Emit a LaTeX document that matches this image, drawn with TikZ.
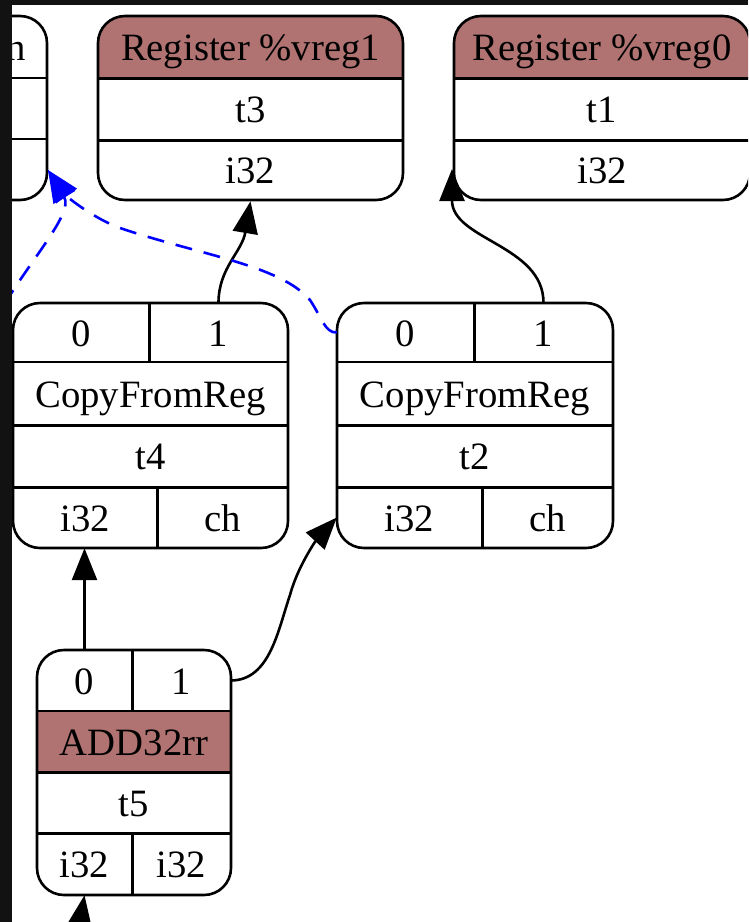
\documentclass[tikz,border=0pt]{standalone}
\usepackage{fontspec}
\setmainfont{Liberation Serif}
\usetikzlibrary{arrows.meta}
\definecolor{hdr}{RGB}{176,115,114}
\definecolor{framec}{RGB}{18,18,18}
\tikzset{
  rec/.style={draw, line width=2.6pt, rounded corners=27pt, inner sep=0pt},
  cell/.style={inner sep=0pt, text height=27pt, text depth=0pt, font=\fontsize{38.7}{46}\selectfont},
  div/.style={line width=2.6pt},
  edge/.style={line width=2.6pt, -{Triangle[length=32pt,width=25pt]}},
  dep/.style={edge, blue, dash pattern=on 17pt off 12pt},
}
\begin{document}
\begin{tikzpicture}[x=1pt,y=-1pt]
\useasboundingbox (0,0) rectangle (748,922);
\clip (0,0) rectangle (748,922);
\fill[white] (0,0) rectangle (748,922);

% ---------- left (cut) node ----------
\node[rec, minimum width=297, minimum height=184] (L) at (-101.5,108) {};
\draw[div] (-250,78) -- (47,78);
\draw[div] (-250,139) -- (47,139);
\node[cell, anchor=east] (Lh) at (26,47) {n};
\coordinate (Lin) at (48,170);

% ---------- Register %vreg1 ----------
\begin{scope}
  \clip (98,16) rectangle (403,78);
  \fill[hdr, rounded corners=27pt] (98,16) rectangle (403,200);
\end{scope}
\node[cell, minimum width=305, minimum height=62] (v1h) at (250.5,47) {Register \%vreg1};
\node[cell, minimum width=305, minimum height=62] (v1id) at (250.5,109) {t3};
\node[cell, minimum width=305, minimum height=60] (v1ty) at (250.5,170) {i32};
\draw[div] (v1h.south west) -- (v1h.south east);
\draw[div] (v1id.south west) -- (v1id.south east);
\node[rec, minimum width=305, minimum height=184] (vreg1) at (250.5,108) {};

% ---------- Register %vreg0 ----------
\begin{scope}
  \clip (454,16) rectangle (750,78);
  \fill[hdr, rounded corners=27pt] (454,16) rectangle (750,200);
\end{scope}
\node[cell, minimum width=296, minimum height=62] (v0h) at (602,47) {Register \%vreg0};
\node[cell, minimum width=296, minimum height=62] (v0id) at (602,109) {t1};
\node[cell, minimum width=296, minimum height=60] (v0ty) at (602,170) {i32};
\draw[div] (v0h.south west) -- (v0h.south east);
\draw[div] (v0id.south west) -- (v0id.south east);
\node[rec, minimum width=296, minimum height=184] (vreg0) at (602,108) {};
\coordinate (v0in) at (452,169);

% ---------- CopyFromReg t4 ----------
\node[cell, minimum width=136, minimum height=59] (t4p0) at (81,332.5) {0};
\node[cell, minimum width=139, minimum height=59] (t4p1) at (218.5,332.5) {1};
\node[cell, minimum width=275, minimum height=63] (t4op) at (150.5,393.5) {CopyFromReg};
\node[cell, minimum width=275, minimum height=62] (t4id) at (150.5,456) {t4};
\node[cell, minimum width=144, minimum height=61] (t4o0) at (85,517.5) {i32};
\node[cell, minimum width=131, minimum height=61] (t4o1) at (222.5,517.5) {ch};
\draw[div] (t4p0.north east) -- (t4p0.south east);
\draw[div] (t4op.north west) -- (t4op.north east);
\draw[div] (t4op.south west) -- (t4op.south east);
\draw[div] (t4id.south west) -- (t4id.south east);
\draw[div] (t4o0.north east) -- (t4o0.south east);
\node[rec, minimum width=275, minimum height=245] (t4) at (150.5,425.5) {};

% ---------- CopyFromReg t2 ----------
\node[cell, minimum width=137, minimum height=59] (t2p0) at (405.5,332.5) {0};
\node[cell, minimum width=139, minimum height=59] (t2p1) at (543.5,332.5) {1};
\node[cell, minimum width=276, minimum height=63] (t2op) at (475,393.5) {CopyFromReg};
\node[cell, minimum width=276, minimum height=62] (t2id) at (475,456) {t2};
\node[cell, minimum width=145, minimum height=61] (t2o0) at (409.5,517.5) {i32};
\node[cell, minimum width=131, minimum height=61] (t2o1) at (547.5,517.5) {ch};
\draw[div] (t2p0.north east) -- (t2p0.south east);
\draw[div] (t2op.north west) -- (t2op.north east);
\draw[div] (t2op.south west) -- (t2op.south east);
\draw[div] (t2id.south west) -- (t2id.south east);
\draw[div] (t2o0.north east) -- (t2o0.south east);
\node[rec, minimum width=276, minimum height=245] (t2) at (475,425.5) {};

% ---------- ADD32rr t5 ----------
\fill[hdr] (37,711) rectangle (231,772);
\node[cell, minimum width=95, minimum height=61] (t5p0) at (84.5,680.5) {0};
\node[cell, minimum width=99, minimum height=61] (t5p1) at (181.5,680.5) {1};
\node[cell, minimum width=194, minimum height=61] (t5op) at (134,741.5) {ADD32rr};
\node[cell, minimum width=194, minimum height=61] (t5id) at (134,802.5) {t5};
\node[cell, minimum width=95, minimum height=62] (t5o0) at (84.5,864) {i32};
\node[cell, minimum width=99, minimum height=62] (t5o1) at (181.5,864) {i32};
\draw[div] (t5p0.north east) -- (t5p0.south east);
\draw[div] (t5op.north west) -- (t5op.north east);
\draw[div] (t5op.south west) -- (t5op.south east);
\draw[div] (t5id.south west) -- (t5id.south east);
\draw[div] (t5o0.north east) -- (t5o0.south east);
\node[rec, minimum width=194, minimum height=245] (t5) at (134,772.5) {};

% ---------- edges ----------
\draw[edge] (t4p1.north) .. controls (218.5,268) and (242,252) .. (vreg1.south);
\draw[edge] (t2p1.north) .. controls (543.5,245) and (452,240) .. (v0in);
\draw[edge] (t5p0.north) -- (t5p0.north |- t4o0.south);
\draw[edge] (t5p1.east) .. controls (270,680) and (278,630) .. (290,595)
  .. controls (298,565) and (318,538) .. (t2o0.west);
\coordinate (below) at (74,960);
\draw[edge] (below) -- (t5o0.south);

\draw[dep] (t2p0.west) .. controls (325,333) and (322,318) .. (310,300)
  .. controls (280,265) and (200,255) .. (120,228)
  .. controls (95,219) and (68,198) .. (Lin);
\coordinate (offL) at (-10,330);
\draw[dep] (offL) .. controls (20,270) and (75,215) .. (Lin);

% ---------- dark frame ----------
\fill[framec] (0,0) rectangle (748,5);
\fill[framec] (0,0) rectangle (12,922);
\end{tikzpicture}
\end{document}
